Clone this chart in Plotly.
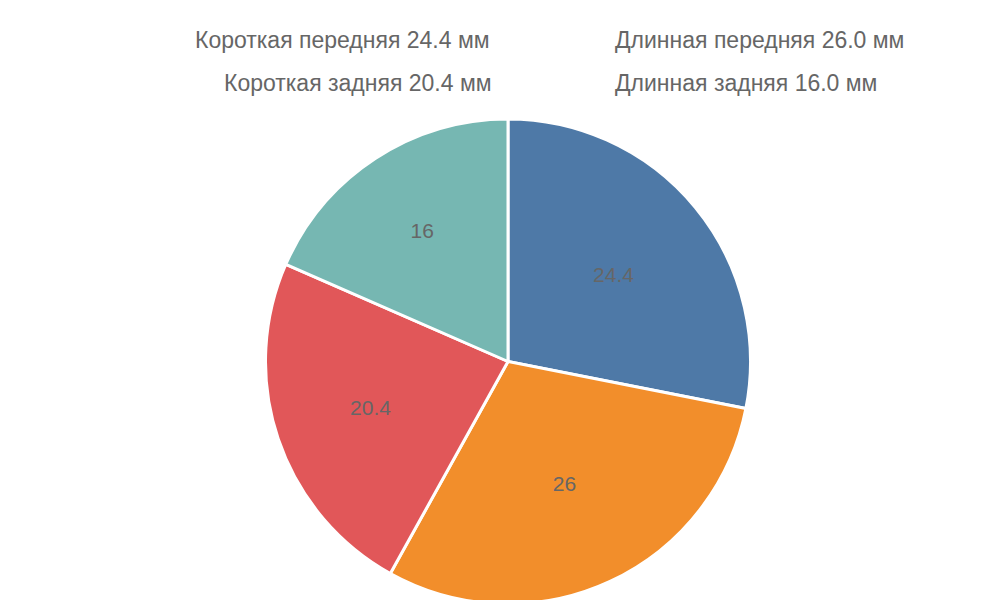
import plotly.graph_objects as go

labels = ["Короткая передняя 24.4 мм", "Длинная передняя 26.0 мм",
          "Короткая задняя 20.4 мм", "Длинная задняя 16.0 мм"]
values = [24.4, 26, 20.4, 16]
colors = ["#4E79A7", "#F28E2B", "#E15759", "#76B7B2"]

fig = go.Figure(go.Pie(
    labels=labels, values=values, sort=False, direction="clockwise", rotation=0,
    marker=dict(colors=colors, line=dict(color="white", width=3)),
    textinfo="value", textposition="inside", insidetextorientation="horizontal",
    textfont=dict(color="#666", size=21),
    domain=dict(x=[0, 1], y=[0, 1]),
    showlegend=False,
))

# hand-drawn legend (two rows, centred like the original)
legend_pos = [(95, 32), (515, 32), (124, 75), (515, 75)]  # box left x, centre y in px
for (bx, cy), lab, col in zip(legend_pos, labels, colors):
    fig.add_shape(type="rect", xref="paper", yref="paper",
                  x0=bx / 1000, x1=(bx + 75) / 1000,
                  y0=1 - (cy + 10) / 600 * 600 / 485 + 0 if False else 0, y1=0,
                  visible=False)
shapes = []
annotations = []
plot_h = 485
for (bx, cy), lab, col in zip(legend_pos, labels, colors):
    # convert px (from top of page) to paper coords (plot area starts at y=111)
    y_top = 1 + (111 - (cy - 10)) / plot_h
    y_bot = 1 + (111 - (cy + 10)) / plot_h
    shapes.append(dict(type="rect", xref="paper", yref="paper",
                       x0=bx / 1000, x1=(bx + 75) / 1000, y0=y_bot, y1=y_top,
                       fillcolor=col, line=dict(width=0)))
    annotations.append(dict(text=lab, xref="paper", yref="paper",
                            x=(bx + 90) / 1000, y=1 + (111 - cy) / plot_h,
                            xanchor="left", yanchor="middle", showarrow=False,
                            font=dict(size=23, color="#666")))

fig.update_layout(
    width=1000, height=600,
    margin=dict(t=111, b=4, l=0, r=0),
    paper_bgcolor="white",
    font=dict(family="Liberation Sans, Arial", color="#666", size=22),
    shapes=shapes, annotations=annotations,
)
fig.write_html("out.html")
